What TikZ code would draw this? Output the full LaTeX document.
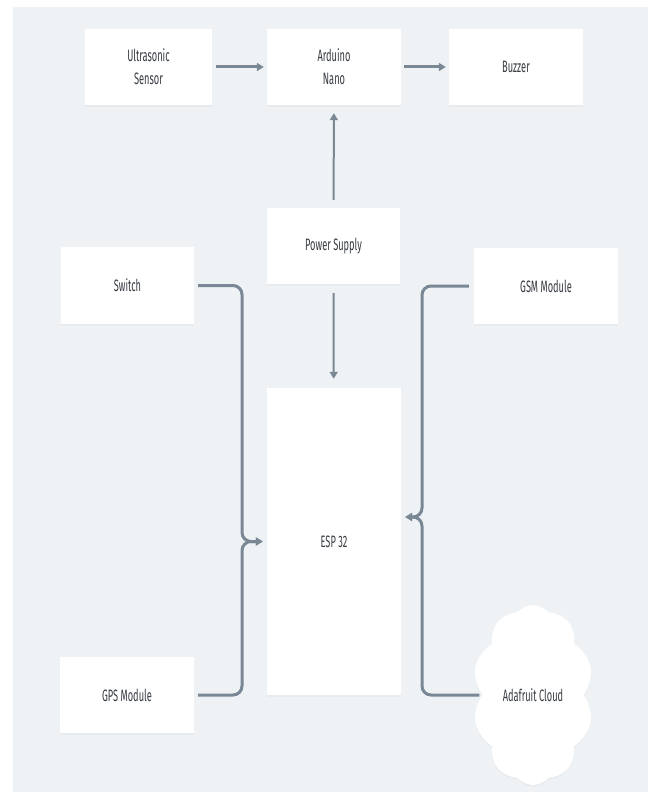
\documentclass[tikz,border=0pt]{standalone}
\usepackage{fontspec}
\setmainfont[FakeStretch=0.56]{Fira Sans}
\usetikzlibrary{arrows.meta, shapes.symbols, shadows}

\definecolor{bgcol}{HTML}{EEF2F5}
\definecolor{linecol}{HTML}{7A8896}
\definecolor{textcol}{HTML}{363B42}

\begin{document}
\begin{tikzpicture}[x=1pt, y=-1pt, >={Triangle[length=7pt,width=8pt]},
    block/.style={rectangle, fill=white, text=textcol, align=center,
        font=\fontsize{16.5}{23}\selectfont, inner sep=0pt,
        drop shadow={opacity=0.06, shadow xshift=0pt, shadow yshift=-1.5pt}},
    conn/.style={->, line width=3pt, linecol},
    feed/.style={->, line width=2pt, linecol}]

    % page and grey canvas
    \fill[white] (0,0) rectangle (648,792);
    \fill[bgcol] (13,7) rectangle (648,792);
    \useasboundingbox (0,0) rectangle (648,792);

    % top row
    \node[block, minimum width=127pt, minimum height=76pt] (us) at (148.5,67) {Ultrasonic\\Sensor};
    \node[block, minimum width=134pt, minimum height=76pt] (an) at (334,67) {Arduino\\Nano};
    \node[block, minimum width=134pt, minimum height=76pt] (bz) at (516,67) {Buzzer};

    % middle
    \node[block, minimum width=133pt, minimum height=76pt] (ps) at (333.5,246) {Power Supply};
    \node[block, minimum width=133pt, minimum height=77pt] (sw) at (127.5,285.5) {Switch};
    \node[block, minimum width=144pt, minimum height=76pt] (gsm) at (546,286) {GSM Module};
    \node[block, minimum width=134pt, minimum height=307pt] (esp) at (334,541.5) {ESP 32};

    % bottom
    \node[block, minimum width=134pt, minimum height=76pt] (gps) at (127,695) {GPS Module};
    \node[block, cloud, cloud puffs=10, cloud puff arc=100, cloud ignores aspect,
        minimum width=121pt, minimum height=180pt] (cloud) at (533,695) {Adafruit Cloud};

    % junctions of the brackets
    \coordinate (lj) at (242,541.5);
    \coordinate (rj) at (422,517);

    \draw[conn, shorten <=4pt, shorten >=3pt] (us) -- (an);
    \draw[conn, shorten <=3pt, shorten >=3pt] (an) -- (bz);
    \draw[feed, shorten <=8pt, shorten >=8pt] (ps) -- (an);
    \draw[feed, shorten <=9pt, shorten >=9pt] (ps) -- (esp);

    \draw[conn, rounded corners=9pt, shorten <=4pt, shorten >=4pt] (sw.east) -| (lj) -- (esp.west);
    \draw[conn, rounded corners=9pt, shorten <=4pt, shorten >=4pt] (gps.east) -| (lj) -- (esp.west);
    \draw[conn, rounded corners=9pt, shorten <=5pt, shorten >=4pt] (gsm.west) -| (rj) -- (esp.east |- rj);
    \draw[conn, rounded corners=9pt, shorten <=3pt, shorten >=4pt] (cloud.west) -| (rj) -- (esp.east |- rj);
\end{tikzpicture}
\end{document}
